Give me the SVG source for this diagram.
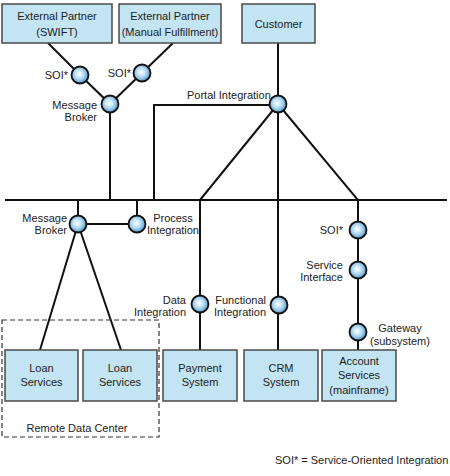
<svg xmlns="http://www.w3.org/2000/svg" width="450" height="476" viewBox="0 0 450 476">
<defs>
<radialGradient id="g" cx="0.45" cy="0.45" r="0.6">
<stop offset="0" stop-color="#ffffff"/>
<stop offset="0.45" stop-color="#b8dcf2"/>
<stop offset="1" stop-color="#3f8fc9"/>
</radialGradient>
<style>
.box{fill:#c2e4f3;stroke:#4a4a4a;stroke-width:1.5}
.ln{stroke:#111;stroke-width:2;fill:none}
.nd{fill:url(#g);stroke:#111;stroke-width:1.8}
text{font-family:"Liberation Sans",Arial,sans-serif;font-size:11px;fill:#222}
.c{text-anchor:middle}
.r{text-anchor:end}
</style>
</defs>
<rect width="450" height="476" fill="#fff"/>
<g id="connectors">
<polyline class="ln" points="48,43 80,75 110,104 142,73 173,43"/>
<line class="ln" x1="110" y1="104" x2="110" y2="200"/>
<line class="ln" x1="278" y1="43" x2="278" y2="350"/>
<polyline class="ln" points="154,200 154,105 278,105"/>
<line class="ln" x1="278" y1="104" x2="200" y2="200"/>
<polyline class="ln" points="278,104 358,200 358,350"/>
<line class="ln" x1="5" y1="200" x2="447" y2="200"/>
<line class="ln" x1="78" y1="200" x2="78" y2="224"/>
<line class="ln" x1="137" y1="200" x2="137" y2="224"/>
<line class="ln" x1="78" y1="224" x2="137" y2="224"/>
<line class="ln" x1="78" y1="224" x2="40" y2="350"/>
<line class="ln" x1="78" y1="224" x2="121" y2="350"/>
<line class="ln" x1="200" y1="200" x2="200" y2="350"/>
</g>
<g id="ext-swift"><rect class="box" x="2" y="4" width="110" height="39"/><text class="c" x="57" y="20">External Partner</text><text class="c" x="57" y="36">(SWIFT)</text></g>
<g id="ext-manual"><rect class="box" x="119" y="4" width="102" height="39"/><text class="c" x="170" y="20">External Partner</text><text class="c" x="170" y="36">(Manual Fulfillment)</text></g>
<g id="customer"><rect class="box" x="242" y="4" width="73" height="39"/><text class="c" x="278.5" y="28">Customer</text></g>
<g id="soi-1"><circle class="nd" cx="80" cy="75" r="8.5"/><text class="r" x="68" y="79">SOI*</text></g>
<g id="soi-2"><circle class="nd" cx="142" cy="73" r="8.5"/><text class="r" x="131" y="77">SOI*</text></g>
<g id="broker-top"><circle class="nd" cx="110" cy="104" r="8.5"/><text class="r" x="97" y="109">Message</text><text class="r" x="97" y="121">Broker</text></g>
<g id="portal"><circle class="nd" cx="278" cy="104" r="8.5"/><text x="187" y="99">Portal Integration</text></g>
<g id="broker-low"><circle class="nd" cx="78" cy="224" r="8.5"/><text class="r" x="67" y="222">Message</text><text class="r" x="67" y="234">Broker</text></g>
<g id="process"><circle class="nd" cx="137" cy="224" r="8.5"/><text class="c" x="173" y="222">Process</text><text class="c" x="173" y="234">Integration</text></g>
<g id="data"><circle class="nd" cx="200" cy="304" r="8.5"/><text class="r" x="186" y="304">Data</text><text class="r" x="186" y="316">Integration</text></g>
<g id="functional"><circle class="nd" cx="279" cy="305" r="8.5"/><text class="r" x="266" y="304">Functional</text><text class="r" x="266" y="316">Integration</text></g>
<g id="soi-3"><circle class="nd" cx="358" cy="230" r="8.5"/><text class="r" x="343" y="234">SOI*</text></g>
<g id="service-if"><circle class="nd" cx="358" cy="270" r="8.5"/><text class="r" x="343" y="269">Service</text><text class="r" x="343" y="281">Interface</text></g>
<g id="gateway"><circle class="nd" cx="358" cy="332" r="8.5"/><text class="c" x="400" y="332">Gateway</text><text class="c" x="400" y="345">(subsystem)</text></g>
<g id="remote-dc"><rect x="2" y="320" width="157" height="117" fill="none" stroke="#333" stroke-width="1.2" stroke-dasharray="5,3"/><text class="c" x="77" y="432">Remote Data Center</text></g>
<g id="loan-1"><rect class="box" x="5" y="350" width="73" height="51"/><text class="c" x="41.5" y="372">Loan</text><text class="c" x="41.5" y="386">Services</text></g>
<g id="loan-2"><rect class="box" x="83" y="350" width="74" height="51"/><text class="c" x="120" y="372">Loan</text><text class="c" x="120" y="386">Services</text></g>
<g id="payment"><rect class="box" x="163" y="350" width="74" height="51"/><text class="c" x="200" y="372">Payment</text><text class="c" x="200" y="386">System</text></g>
<g id="crm"><rect class="box" x="244" y="350" width="74" height="51"/><text class="c" x="281" y="372">CRM</text><text class="c" x="281" y="386">System</text></g>
<g id="account"><rect class="box" x="322" y="350" width="74" height="51"/><text class="c" x="359" y="365">Account</text><text class="c" x="359" y="379">Services</text><text class="c" x="359" y="394">(mainframe)</text></g>
<text x="275" y="464">SOI* = Service-Oriented Integration</text>
</svg>
